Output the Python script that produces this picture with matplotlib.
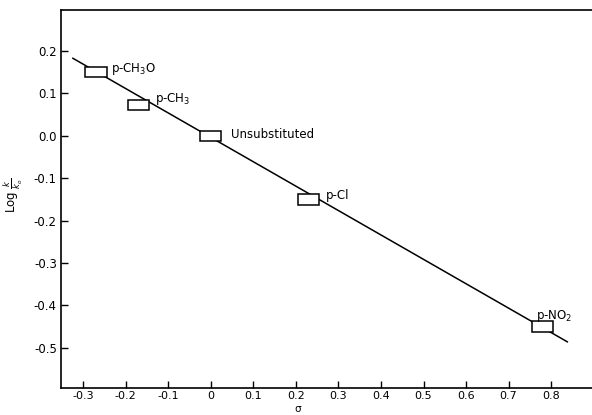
import matplotlib.pyplot as plt
from matplotlib.patches import Rectangle

# Hammett plot: log(k/k0) vs sigma
substituents = ["p-CH$_3$O", "p-CH$_3$", "Unsubstituted", "p-Cl", "p-NO$_2$"]
sigma = [-0.27, -0.17, 0.0, 0.23, 0.78]
log_k = [0.15, 0.073, 0.0, -0.15, -0.45]

# fitted line end points
fit_x = [-0.324, 0.838]
fit_y = [0.183, -0.486]

x_ticks = [-0.3, -0.2, -0.1, 0, 0.1, 0.2, 0.3, 0.4, 0.5, 0.6, 0.7, 0.8]
x_labels = ["-0.3", "-0.2", "-0.1", "0", "0.1", "0.2", "0.3", "0.4", "0.5", "0.6", "0.7", "0.8"]
y_ticks = [0.2, 0.1, 0.0, -0.1, -0.2, -0.3, -0.4, -0.5]
y_labels = ["0.2", "0.1", "0.0", "-0.1", "-0.2", "-0.3", "-0.4", "-0.5"]

plt.rcParams['font.family'] = ['DejaVu Sans']
plt.rcParams['font.size'] = 8

fig = plt.figure(figsize=(5.92, 4.15), dpi=100)
ax = fig.add_axes([0.103, 0.065, 0.897, 0.911])

ax.plot(fit_x, fit_y, color="black", lw=1.1, zorder=2)

box_w, box_h = 0.05, 0.024
for sx, ly in zip(sigma, log_k):
    ax.add_patch(Rectangle((sx - box_w / 2, ly - box_h / 2), box_w, box_h,
                           facecolor="white", edgecolor="black", lw=1.1, zorder=3))

# label offsets (data units) relative to each box
offsets = [(0.035, 0.008), (0.038, 0.013), (0.047, 0.003), (0.04, 0.01), (-0.015, 0.026)]
for name, sx, ly, (dx, dy) in zip(substituents, sigma, log_k, offsets):
    ax.text(sx + dx, ly + dy, name, ha="left", va="center", fontsize=8.5)

ax.set_xlim(-0.352, 0.896)
ax.set_ylim(-0.595, 0.297)

ax.set_xticks(x_ticks)
ax.set_xticklabels(x_labels)
ax.set_yticks(y_ticks)
ax.set_yticklabels(y_labels)
ax.tick_params(direction="in", length=5, width=1, pad=3, labelsize=8.5)
ax.tick_params(axis="x", pad=2, labelsize=8)

ax.spines["right"].set_visible(False)
for s in ["left", "bottom", "top"]:
    ax.spines[s].set_linewidth(1.2)

ax.set_xlabel("σ", fontsize=7.5)
ax.xaxis.set_label_coords(0.445, -0.042)
ax.set_ylabel(r"Log $\frac{k}{k_o}$", fontsize=8.5)
ax.yaxis.set_label_coords(-0.068, 0.51)

fig.savefig("out.png", dpi=100)
